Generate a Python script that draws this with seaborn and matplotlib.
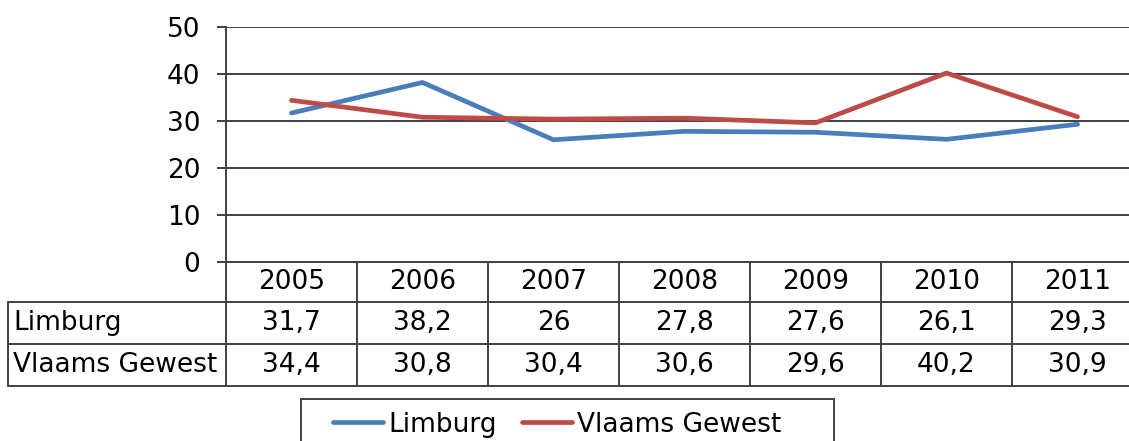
import numpy as np
import pandas as pd
import seaborn as sns
import matplotlib.pyplot as plt
from matplotlib.lines import Line2D
from matplotlib.patches import Rectangle
from matplotlib.transforms import blended_transform_factory

years = ['2005', '2006', '2007', '2008', '2009', '2010', '2011']
limburg = [31.7, 38.2, 26, 27.8, 27.6, 26.1, 29.3]
vlaams = [34.4, 30.8, 30.4, 30.6, 29.6, 40.2, 30.9]
series_names = ['Limburg', 'Vlaams Gewest']
colors = ['#4a7ebb', '#be4b48']

sns.set_style('white')
plt.rcParams['font.family'] = ['DejaVu Sans']
plt.rcParams['text.color'] = 'black'

FS = 19
W, H = 1129, 441
fig = plt.figure(figsize=(W / 100, H / 100), dpi=100)

def fx(px):
    return px / W

def fy(py):
    return 1 - py / H

# plot area: 226..1143 px wide (7 columns of 131 px), 27..262 px tall
ax = fig.add_axes([fx(226), fy(262), 917 / W, 235 / H])

pos = np.arange(len(years))
df = pd.DataFrame({'pos': np.concatenate([pos, pos]),
                   'value': limburg + vlaams,
                   'serie': [series_names[0]] * len(years) + [series_names[1]] * len(years)})
sns.lineplot(data=df, x='pos', y='value', hue='serie', palette=colors,
             linewidth=3.4, ax=ax, legend=False, solid_capstyle='round')

ax.set_xlim(-0.5, len(years) - 0.5)
ax.set_ylim(0, 50)
ax.set_yticks([0, 10, 20, 30, 40, 50])
ax.set_xticks([])
ax.set_xlabel('')
ax.set_ylabel('')
ax.yaxis.grid(True, color='#404040', linewidth=1.4)
ax.set_axisbelow(True)
for s in ['top', 'right', 'bottom']:
    ax.spines[s].set_visible(False)
ax.spines['left'].set_color('#404040')
ax.spines['left'].set_linewidth(1.4)
ax.tick_params(axis='y', left=True, length=6.5, width=1.4, color='#404040',
               labelsize=FS, pad=12, labelcolor='black')

# data table below the plot
line_kw = dict(color='#404040', linewidth=1.4, transform=fig.transFigure)
tr = blended_transform_factory(ax.transData, fig.transFigure)
right = 1.02
fig.add_artist(Line2D([fx(226), right], [fy(262), fy(262)], **line_kw))
for yy in [302, 344, 386]:
    fig.add_artist(Line2D([fx(8), right], [fy(yy), fy(yy)], **line_kw))
fig.add_artist(Line2D([fx(8), fx(8)], [fy(302), fy(386)], **line_kw))
fig.add_artist(Line2D([fx(226), fx(226)], [fy(262), fy(386)], **line_kw))
for i in range(len(years)):
    fig.add_artist(Line2D([i + 0.5, i + 0.5], [fy(262), fy(386)], color='#404040',
                          linewidth=1.4, transform=tr))

def fmt(v):
    return ('%g' % v).replace('.', ',')

for i, yr in enumerate(years):
    fig.text(i, fy(282), yr, transform=tr, ha='center', va='center', fontsize=FS)
    fig.text(i, fy(323), fmt(limburg[i]), transform=tr, ha='center', va='center', fontsize=FS)
    fig.text(i, fy(365), fmt(vlaams[i]), transform=tr, ha='center', va='center', fontsize=FS)
fig.text(fx(13), fy(323), series_names[0], ha='left', va='center', fontsize=FS)
fig.text(fx(13), fy(365), series_names[1], ha='left', va='center', fontsize=FS)

# legend box (frame drawn separately, Excel-style wide padding)
fig.add_artist(Rectangle((fx(301), fy(446)), fx(533), 47 / H, fill=False,
                         edgecolor='#404040', linewidth=1.4, transform=fig.transFigure))
handles = [Line2D([], [], color=c, linewidth=3.4, solid_capstyle='round') for c in colors]
leg = fig.legend(handles, series_names, loc='upper center',
                 bbox_to_anchor=(fx(557), fy(401)), ncol=2, fontsize=FS,
                 frameon=False, handlelength=1.9, handletextpad=0.2,
                 columnspacing=0.95, borderpad=0.4, borderaxespad=0)
for t in leg.get_texts():
    t.set_color('black')

fig.savefig('out.png', dpi=100)
